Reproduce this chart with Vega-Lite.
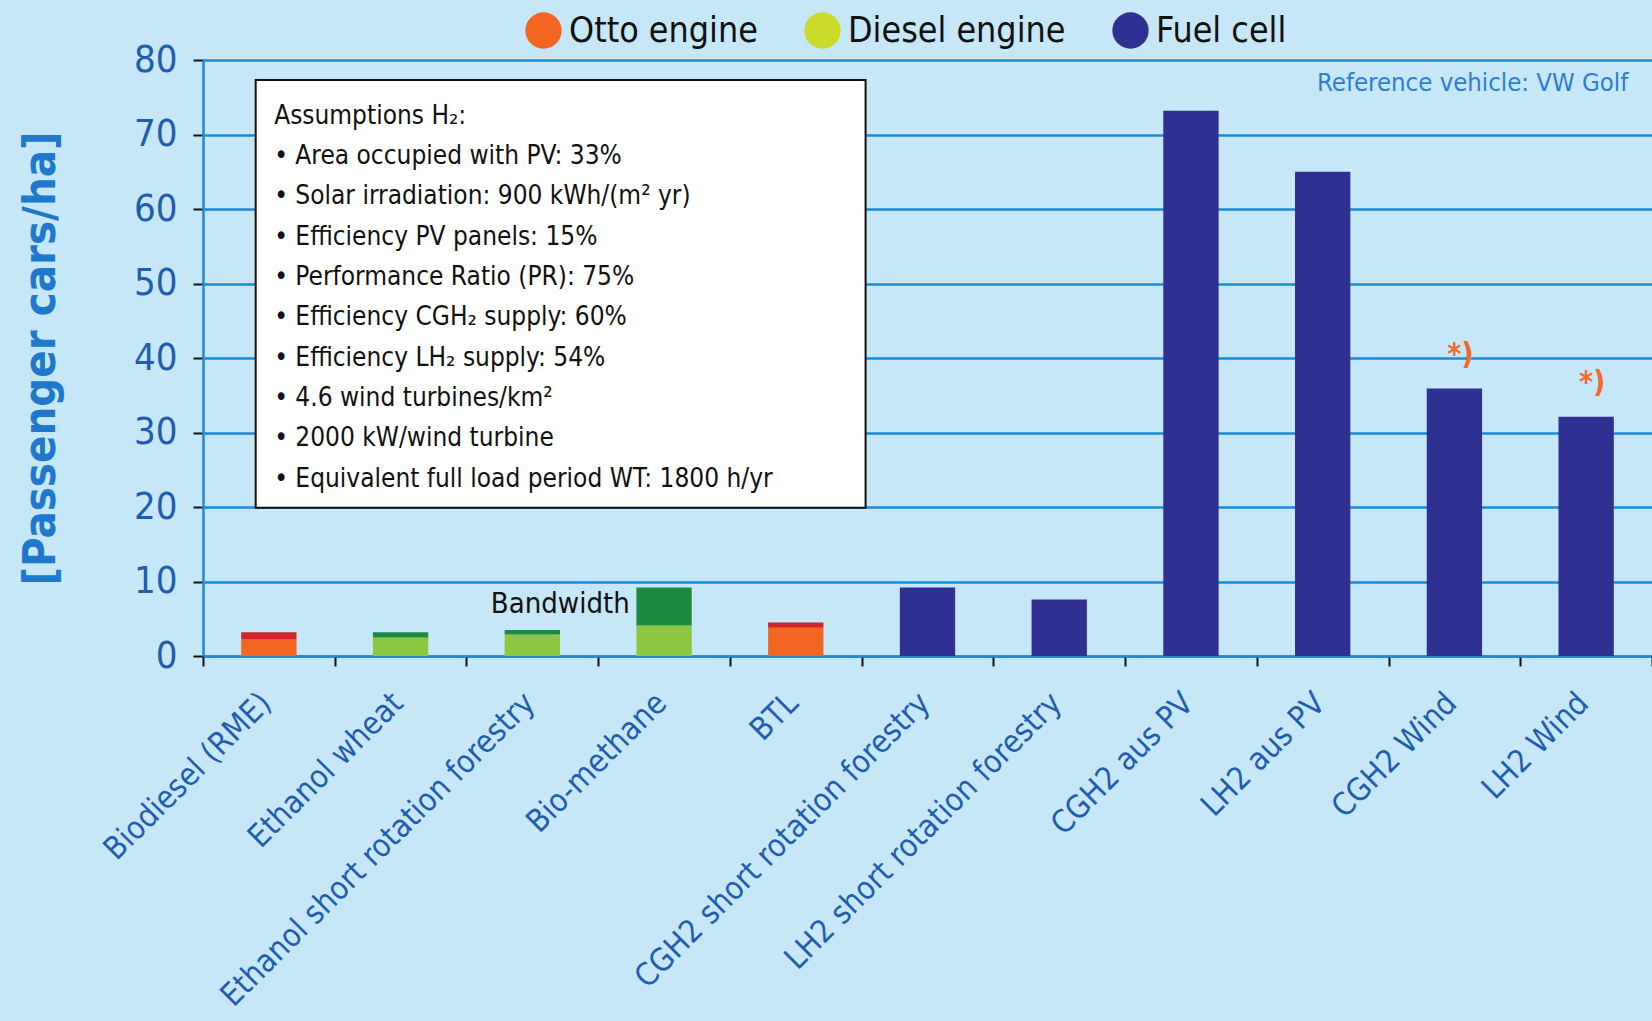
{
  "$schema": "https://vega.github.io/schema/vega-lite/v6.json",
  "width": 1449,
  "height": 596,
  "autosize": "none",
  "padding": {"left": 203, "top": 60, "right": 0, "bottom": 365},
  "background": "#c6e7f8",
  "config": {"view": {"stroke": null}, "font": "DejaVu Sans Condensed, DejaVu Sans"},
  "datasets": {
    "bars": [
      {"pathway": "Biodiesel (RME)", "part": "Otto engine", "lo": 0, "hi": 2.2},
      {"pathway": "Biodiesel (RME)", "part": "Otto bandwidth", "lo": 2.2, "hi": 3.2},
      {"pathway": "Ethanol wheat", "part": "Diesel engine", "lo": 0, "hi": 2.5},
      {"pathway": "Ethanol wheat", "part": "Diesel bandwidth", "lo": 2.5, "hi": 3.2},
      {"pathway": "Ethanol short rotation forestry", "part": "Diesel engine", "lo": 0, "hi": 2.9},
      {"pathway": "Ethanol short rotation forestry", "part": "Diesel bandwidth", "lo": 2.9, "hi": 3.5},
      {"pathway": "Bio-methane", "part": "Diesel engine", "lo": 0, "hi": 4.1},
      {"pathway": "Bio-methane", "part": "Diesel bandwidth", "lo": 4.1, "hi": 9.2},
      {"pathway": "BTL", "part": "Otto engine", "lo": 0, "hi": 3.8},
      {"pathway": "BTL", "part": "Otto bandwidth", "lo": 3.8, "hi": 4.5},
      {"pathway": "CGH2 short rotation forestry", "part": "Fuel cell", "lo": 0, "hi": 9.2},
      {"pathway": "LH2 short rotation forestry", "part": "Fuel cell", "lo": 0, "hi": 7.6},
      {"pathway": "CGH2 aus PV", "part": "Fuel cell", "lo": 0, "hi": 73.2},
      {"pathway": "LH2 aus PV", "part": "Fuel cell", "lo": 0, "hi": 65.0},
      {"pathway": "CGH2 Wind", "part": "Fuel cell", "lo": 0, "hi": 35.9, "note": "*)"},
      {"pathway": "LH2 Wind", "part": "Fuel cell", "lo": 0, "hi": 32.1, "note": "*)"}
    ],
    "engines": [
      {"engine": "Otto engine"},
      {"engine": "Diesel engine"},
      {"engine": "Fuel cell"}
    ]
  },
  "layer": [
    {
      "data": {"name": "bars"},
      "encoding": {
        "x": {
          "field": "pathway",
          "type": "nominal",
          "sort": null,
          "title": null,
          "scale": {"paddingInner": 0, "paddingOuter": 0},
          "axis": {
            "labelAngle": -45,
            "labelFontSize": 31.5,
            "labelColor": "#1f5db0",
            "labelPadding": 21,
            "labelOffset": -14,
            "labelLimit": 0,
            "tickBand": "extent",
            "tickColor": "#111111",
            "tickSize": 10,
            "tickWidth": 2,
            "domainColor": "#1b8ad6",
            "domainWidth": 2.5,
            "grid": false
          }
        }
      },
      "layer": [
        {
          "mark": {"type": "bar", "width": {"band": 0.42}},
          "encoding": {
            "y": {
              "field": "lo",
              "type": "quantitative",
              "title": "[Passenger cars/ha]",
              "scale": {"domain": [0, 80], "nice": false},
              "axis": {
                "values": [0, 10, 20, 30, 40, 50, 60, 70, 80],
                "labelFontSize": 38,
                "labelColor": "#1f5db0",
                "labelPadding": 16,
                "tickColor": "#111111",
                "tickSize": 10,
                "tickWidth": 2,
                "domainColor": "#1b8ad6",
                "domainWidth": 2.5,
                "gridColor": "#1b8ad6",
                "gridWidth": 2.5,
                "titleFontSize": 45,
                "titleFontWeight": "bold",
                "titleColor": "#2078cc",
                "titlePadding": 70
              }
            },
            "y2": {"field": "hi"},
            "color": {
              "field": "part",
              "type": "nominal",
              "legend": null,
              "scale": {
                "domain": ["Otto engine", "Otto bandwidth", "Diesel engine", "Diesel bandwidth", "Fuel cell"],
                "range": ["#f26522", "#d1232a", "#8dc63f", "#1b8a3e", "#2e3192"]
              }
            }
          }
        },
        {
          "transform": [{"filter": "datum.note"}],
          "mark": {"type": "text", "fontSize": 30, "fontWeight": "bold", "color": "#f26a2a", "dx": 6, "dy": -34, "baseline": "middle"},
          "encoding": {
            "y": {"field": "hi", "type": "quantitative"},
            "text": {"field": "note"}
          }
        }
      ]
    },
    {
      "data": {"name": "engines"},
      "mark": {"type": "point", "filled": true, "opacity": 0},
      "encoding": {
        "x": {"datum": 0, "type": "quantitative", "scale": {"domain": [0, 11], "nice": false, "zero": false}, "axis": null},
        "y": {"datum": 0, "type": "quantitative"},
        "color": {
          "field": "engine",
          "type": "nominal",
          "sort": null,
          "scale": {"domain": ["Otto engine", "Diesel engine", "Fuel cell"], "range": ["#f26522", "#c9da2a", "#2e3192"]},
          "legend": {
            "orient": "none",
            "legendX": 322,
            "legendY": -48,
            "direction": "horizontal",
            "columns": 3,
            "title": null,
            "symbolType": "circle",
            "symbolSize": 1320,
            "symbolOpacity": 1,
            "symbolStrokeWidth": 0,
            "labelFontSize": 35.5,
            "labelColor": "#111111",
            "labelOffset": 7,
            "columnPadding": 46,
            "labelLimit": 0
          }
        }
      }
    },
    {
      "data": {"values": [{}]},
      "mark": {"type": "rect", "fill": "white", "stroke": "#111111", "strokeWidth": 2},
      "encoding": {
        "x": {"datum": 0.4, "type": "quantitative", "scale": {"domain": [0, 11], "nice": false, "zero": false}, "axis": null},
        "x2": {"datum": 5.03},
        "y": {"datum": 77.3, "type": "quantitative"},
        "y2": {"datum": 19.9}
      }
    },
    {
      "data": {"values": [{}]},
      "mark": {"type": "text", "align": "left", "baseline": "middle", "fontSize": 26, "lineHeight": 40.3, "color": "#111111"},
      "encoding": {
        "x": {"datum": 0.54, "type": "quantitative", "scale": {"domain": [0, 11], "nice": false, "zero": false}, "axis": null},
        "y": {"datum": 72.5, "type": "quantitative"},
        "text": {"value": [
          "Assumptions H₂:",
          "• Area occupied with PV: 33%",
          "• Solar irradiation: 900 kWh/(m² yr)",
          "• Efficiency PV panels: 15%",
          "• Performance Ratio (PR): 75%",
          "• Efficiency CGH₂ supply: 60%",
          "• Efficiency LH₂ supply: 54%",
          "• 4.6 wind turbines/km²",
          "• 2000 kW/wind turbine",
          "• Equivalent full load period WT: 1800 h/yr"
        ]}
      }
    },
    {
      "data": {"values": [{}]},
      "mark": {"type": "text", "align": "right", "baseline": "middle", "fontSize": 29, "color": "#111111"},
      "encoding": {
        "x": {"datum": 3.24, "type": "quantitative", "scale": {"domain": [0, 11], "nice": false, "zero": false}, "axis": null},
        "y": {"datum": 7.0, "type": "quantitative"},
        "text": {"value": "Bandwidth"}
      }
    },
    {
      "data": {"values": [{}]},
      "mark": {"type": "text", "align": "right", "baseline": "middle", "fontSize": 25.5, "color": "#2b7fd1"},
      "encoding": {
        "x": {"datum": 10.82, "type": "quantitative", "scale": {"domain": [0, 11], "nice": false, "zero": false}, "axis": null},
        "y": {"datum": 76.9, "type": "quantitative"},
        "text": {"value": "Reference vehicle: VW Golf"}
      }
    }
  ],
  "resolve": {"scale": {"x": "independent", "color": "independent"}}
}
